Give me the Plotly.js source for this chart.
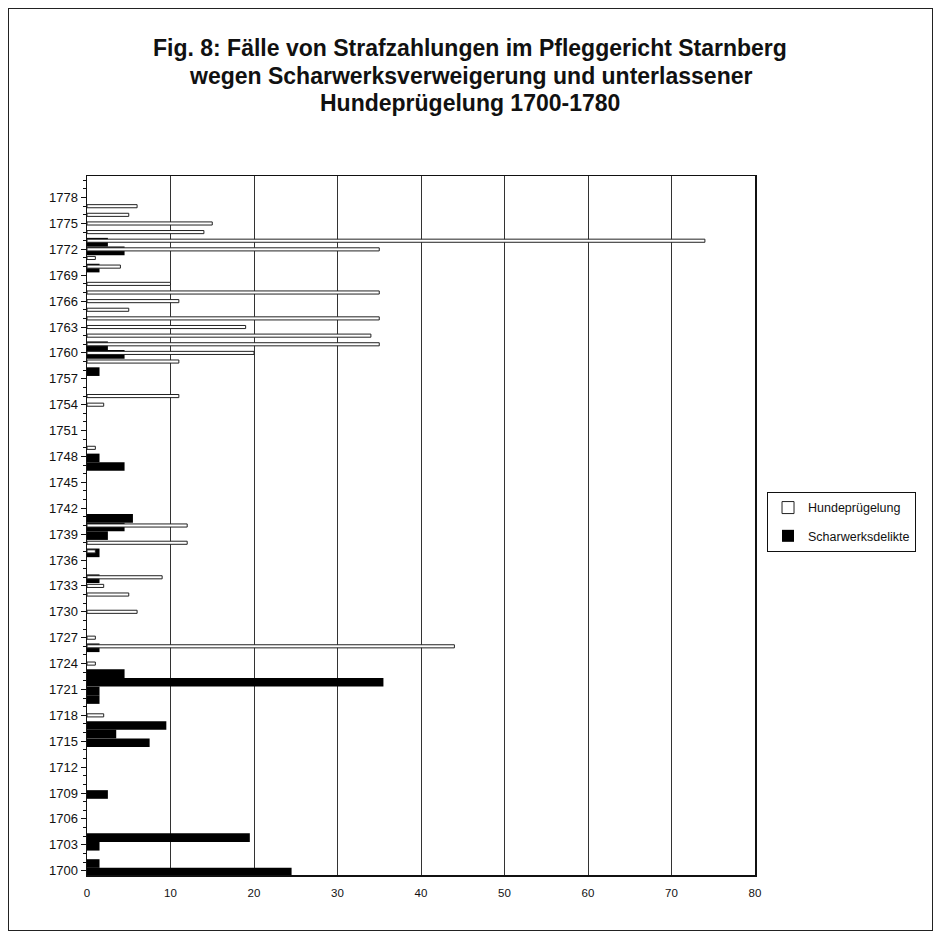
<!DOCTYPE html>
<html><head><meta charset="utf-8">
<script src="https://cdn.plot.ly/plotly-3.0.1.min.js"></script>
<style>html,body{margin:0;padding:0;background:#fff;} #wrap{position:relative;width:939px;height:937px;} #chart{width:939px;height:937px;}
#frame{position:absolute;left:8px;top:8px;width:923px;height:921px;border:1px solid #222;pointer-events:none;}</style>
</head><body><div id="wrap"><div id="chart"></div><div id="frame"></div></div>
<script>
const hundeYears = [1718,1724,1726,1727,1730,1732,1733,1734,1737,1738,1740,1749,1754,1755,1759,1760,1761,1762,1763,1764,1765,1766,1767,1768,1770,1771,1772,1773,1774,1775,1776,1777];
const hundeValues = [2,1,44,1,6,5,2,9,1,12,12,1,2,11,11,20,35,34,19,35,5,11,35,10,4,1,35,74,14,15,5,6];
const scharYears = [1700,1701,1703,1704,1709,1715,1716,1717,1720,1721,1722,1723,1726,1734,1737,1739,1740,1741,1747,1748,1758,1760,1761,1770,1772,1773];
const scharValues = [24.5,1.5,1.5,19.5,2.5,7.5,3.5,9.5,1.5,1.5,35.5,4.5,1.5,1.5,1.5,2.5,4.5,5.5,4.5,1.5,1.5,4.5,2.5,1.5,4.5,2.5];
const titleLines = ["Fig. 8: Fälle von Strafzahlungen im Pfleggericht Starnberg","wegen Scharwerksverweigerung und unterlassener","Hundeprügelung 1700-1780"];
const seriesNames = ["Hundeprügelung","Scharwerksdelikte"];

const traces = [
  {type:'bar', orientation:'h', name:seriesNames[1], x:scharValues, y:scharYears, legendgroup:'b',
   width:1.0, offset:-0.67, marker:{color:'#000', line:{width:0}}, legendrank:2},
  {type:'bar', orientation:'h', name:seriesNames[0], x:hundeValues, y:hundeYears, legendgroup:'a',
   width:0.36, offset:-0.18, marker:{color:'#fff', line:{color:'#222', width:1}}, legendrank:1}
];
const titleY = [48, 76, 103];
const annotations = titleLines.map((t, i) => ({
  text:'<b>'+t+'</b>', xref:'paper', yref:'paper', showarrow:false,
  x:(470-87)/668, y:(875-titleY[i])/699, xanchor:'center', yanchor:'middle',
  font:{size:23, family:'Liberation Sans, Arial, sans-serif', color:'#111'}
}));
const layout = {
  width:939, height:937, paper_bgcolor:'#fff', plot_bgcolor:'#fff',
  margin:{l:87, r:184, t:176, b:62},
  barmode:'overlay',
  font:{family:'Liberation Sans, Arial, sans-serif', color:'#111'},
  annotations: annotations,
  xaxis:{range:[0,80], dtick:10, tick0:0, showgrid:true, gridcolor:'#333', gridwidth:1, zeroline:false,
         showline:true, linecolor:'#111', linewidth:1.5, mirror:true, ticks:'outside', ticklen:7, tickcolor:'#fff',
         tickfont:{size:11.5, color:'#111'}, fixedrange:true},
  yaxis:{range:[1699.5,1780.5], dtick:3, tick0:1700, showgrid:false, zeroline:false,
         showline:true, linecolor:'#111', linewidth:1.5, mirror:true, ticks:'outside', ticklen:5, tickcolor:'#111',
         minor:{dtick:1, tick0:1700, ticks:'outside', ticklen:3, tickcolor:'#111', showgrid:false},
         tickfont:{size:13, color:'#111'}, fixedrange:true},
  legend:{x:1.018, xanchor:'left', y:0.548, yanchor:'top', bordercolor:'#111', borderwidth:1,
          bgcolor:'#fff', font:{size:12.5, color:'#111'}, traceorder:'grouped', tracegroupgap:9, itemwidth:30},
  showlegend:true
};
Plotly.newPlot('chart', traces, layout, {displayModeBar:false, staticPlot:true});
</script></body></html>
